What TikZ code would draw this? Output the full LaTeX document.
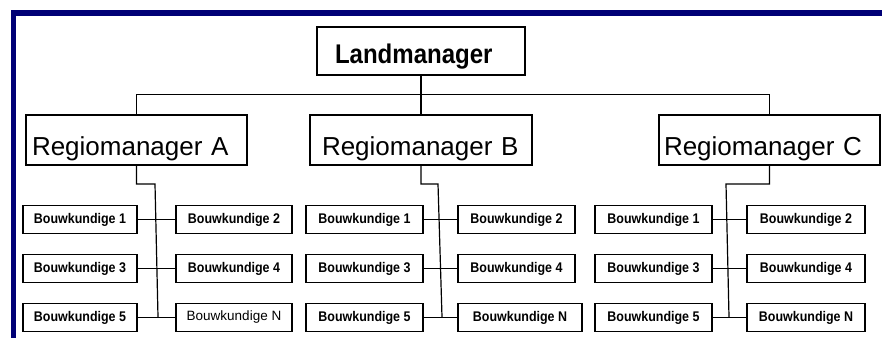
\documentclass[tikz,border=0pt]{standalone}
\usepackage{fontspec}
\setmainfont{Liberation Sans}
\newfontfamily\regiofamily{Liberation Sans}
\newfontfamily\condbold{Liberation Sans Bold}[FakeStretch=0.89]
\definecolor{framenavy}{RGB}{0,0,118}
\newcommand{\landfont}{\condbold\fontsize{27}{30}\selectfont}
\newcommand{\regiofont}{\regiofamily\fontsize{26}{29}\selectfont}
\newcommand{\staffbold}{\condbold\fontsize{14}{16}\selectfont}
\newcommand{\staffplain}{\regiofamily\fontsize{13.5}{16}\selectfont}
\begin{document}
\begin{tikzpicture}[x=1pt,y=-1pt,
  box/.style={draw, line width=1.1pt, inner sep=0pt},
  topbox/.style={box, font=\landfont, minimum height=48pt, text height=26pt, text depth=2pt, align=left},
  regio/.style={box, font=\regiofont, minimum height=50pt, text height=32pt, text depth=2pt, align=left},
  staff/.style={box, font=\staffbold, minimum height=28pt, align=center},
  link/.style={line width=1.2pt}]
\useasboundingbox (0,0) rectangle (882,338);
% navy frame along the top and left
\fill[framenavy] (11,10) rectangle (882,16);
\fill[framenavy] (11,10) rectangle (16,338);

% management
\node[topbox, inner xsep=18pt, text width=172pt] (lm) at (421,51) {Landmanager};
\node[regio, inner xsep=6pt,  text width=209pt] (ra) at (136.5,140) {Regiomanager A};
\node[regio, inner xsep=12pt, text width=198pt] (rb) at (421,140) {Regiomanager B};
\node[regio, inner xsep=5pt,  text width=211pt] (rc) at (769.5,140) {Regiomanager C};

% staff, region A
\node[staff, minimum width=114pt] (a1) at (80,219.5) {Bouwkundige 1};
\node[staff, minimum width=116pt] (a2) at (234,219.5) {Bouwkundige 2};
\node[staff, minimum width=114pt] (a3) at (80,268.5) {Bouwkundige 3};
\node[staff, minimum width=116pt] (a4) at (234,268.5) {Bouwkundige 4};
\node[staff, minimum width=114pt] (a5) at (80,317.5) {Bouwkundige 5};
\node[staff, minimum width=116pt, font=\staffplain] (aN) at (234,317.5) {Bouwkundige N};

% staff, region B
\node[staff, minimum width=117pt] (b1) at (364.5,219.5) {Bouwkundige 1};
\node[staff, minimum width=117pt] (b2) at (516.5,219.5) {Bouwkundige 2};
\node[staff, minimum width=117pt] (b3) at (364.5,268.5) {Bouwkundige 3};
\node[staff, minimum width=117pt] (b4) at (516.5,268.5) {Bouwkundige 4};
\node[staff, minimum width=117pt] (b5) at (364.5,317.5) {Bouwkundige 5};
\node[staff, minimum width=124pt] (bN) at (520,317.5) {Bouwkundige N};

% staff, region C
\node[staff, minimum width=117pt] (c1) at (653.5,219.5) {Bouwkundige 1};
\node[staff, minimum width=118pt] (c2) at (806,219.5) {Bouwkundige 2};
\node[staff, minimum width=117pt] (c3) at (653.5,268.5) {Bouwkundige 3};
\node[staff, minimum width=118pt] (c4) at (806,268.5) {Bouwkundige 4};
\node[staff, minimum width=117pt] (c5) at (653.5,317.5) {Bouwkundige 5};
\node[staff, minimum width=118pt] (cN) at (806,317.5) {Bouwkundige N};

% top-level tree
\draw[link] (lm.south) -- (rb.north);
\draw[link] (ra.north) -- ++(0,-20) -| (rc.north);

% spines of each region
\coordinate (a-top) at (155,184);
\coordinate (a-bot) at (158,317);
\coordinate (b-top) at (438,184);
\coordinate (b-bot) at (442,317);
\coordinate (c-top) at (726,184);
\coordinate (c-bot) at (729,317);
\draw[link] (ra.south) |- (a-top) -- (a-bot);
\draw[link] (rb.south) |- (b-top) -- (b-bot);
\draw[link] (rc.south) |- (c-top) -- (c-bot);

% rows
\foreach \r in {a,b,c}{
  \draw[link] (\r1.east) -- (\r2.west);
  \draw[link] (\r3.east) -- (\r4.west);
  \draw[link] (\r5.east) -- (\r N.west);
}
\end{tikzpicture}
\end{document}
